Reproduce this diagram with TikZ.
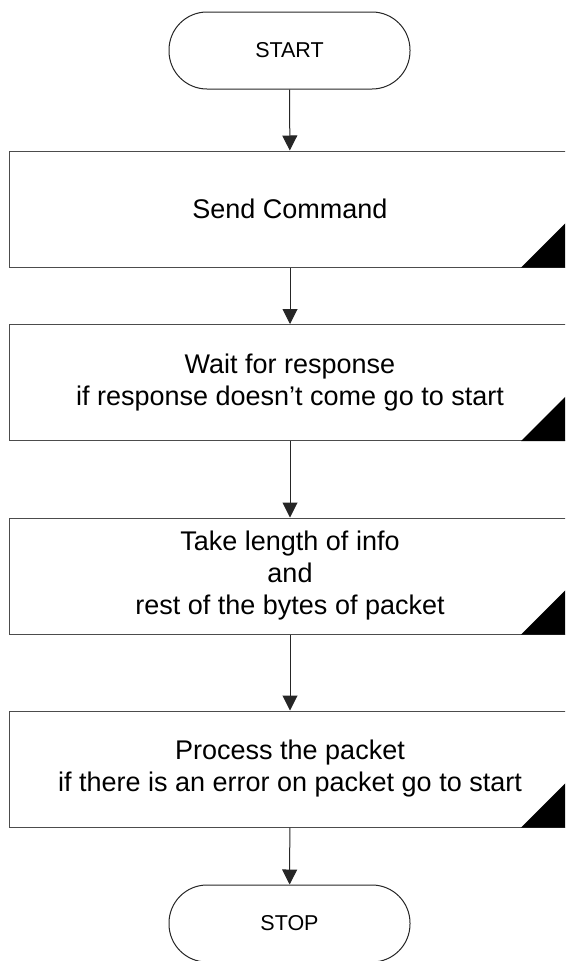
\documentclass[tikz,border=0pt]{standalone}
\usepackage{fontspec}
\setmainfont{Liberation Sans}
\usetikzlibrary{arrows.meta}
\begin{document}
\begin{tikzpicture}[x=1pt,y=-1pt,
  terminal/.style={draw=black!85, line width=1pt, rounded corners=38pt,
    minimum width=241pt, minimum height=77pt, inner sep=0pt,
    font=\fontsize{21.5}{24}\selectfont},
  process/.style={draw=black!70, line width=1pt, minimum width=561pt,
    minimum height=116pt, inner sep=0pt, align=center,
    font=\fontsize{27}{32}\selectfont},
  flow/.style={draw=black!85, line width=1pt, -{Triangle[width=15pt,length=15pt]}},
  corner/.style={fill=black, draw=none}]
  \useasboundingbox (0,0) rectangle (565,961);
  \clip (0,0) rectangle (565,961);

  % terminals and process steps
  \node[terminal] (start) at (289.5,50.5) {START};
  \node[process] (send) at (290,209) {Send Command};
  \node[process] (wait) at (290,382.5) {Wait for response\\if response doesn’t come go to start};
  \node[process] (take) at (290,576) {Take length of info\\and\\rest of the bytes of packet};
  \node[process] (proc) at (290,769) {Process the packet\\if there is an error on packet go to start};
  \node[terminal] (stop) at (289.5,923.5) {STOP};

  % black corner marks on the process boxes
  \foreach \b in {send,wait,take,proc}
    \fill[corner] (\b.south east) -- ++(-50,0) -- ++(50,-50) -- cycle;

  % connectors
  \draw[flow] (start) -- (send);
  \draw[flow] (send) -- (wait);
  \draw[flow] (wait) -- (take);
  \draw[flow] (take) -- (proc);
  \draw[flow] (proc) -- (stop);
\end{tikzpicture}
\end{document}
